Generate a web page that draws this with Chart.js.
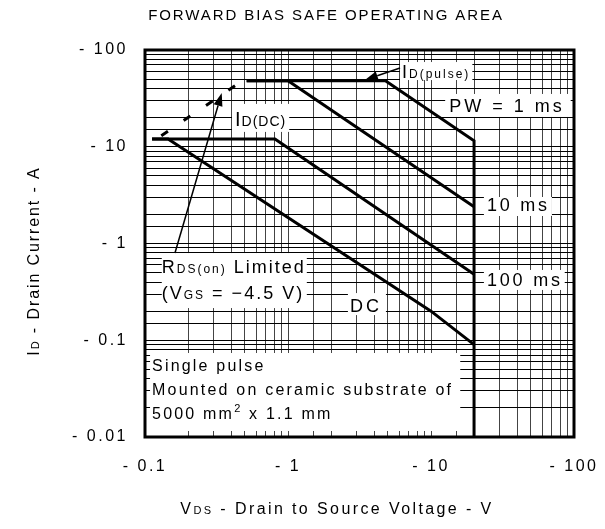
<!DOCTYPE html>
<html><head><meta charset="utf-8">
<script src="https://cdn.jsdelivr.net/npm/chart.js@4.4.0/dist/chart.umd.min.js"></script>
<style>html,body{margin:0;padding:0;background:#fff}canvas{display:block}</style>
</head><body>
<canvas id="c" width="605" height="529"></canvas>
<script>
// ---- data ----
const xTickValues = [0.1, 1, 10, 100];
const xTickLabels = ['- 0.1', '- 1', '- 10', '- 100'];
const yTickValues = [0.01, 0.1, 1, 10, 100];
const yTickLabels = ['- 0.01', '- 0.1', '- 1', '- 10', '- 100'];

const dcV    = [0.112, 0.145, 10, 20];
const dcI    = [12, 12, 0.2, 0.09];
const ms100V = [0.112, 0.81, 20];
const ms100I = [12, 12, 0.48];
const ms10V  = [0.514, 1.0, 20];
const ms10I  = [48, 48, 2.4];
const ms1V   = [0.514, 4.8, 20, 20];
const ms1I   = [48, 48, 11.5, 0.01];
const rdsV   = [0.13, 0.45];
const rdsI   = [13, 45];

const FONT = '"Liberation Sans", Arial, Helvetica, sans-serif';

// labels anchored in data coordinates (left edge, vertical centre of first line)
const labels = [
  {v: 6.27, i: 59.2, sp: 2, lines: [[['I',18],['D(pulse)',12]]], lh: 0, pad: [2,2,10,8]},
  {v: 13.4, i: 26.4, sp: 3, lines: [[['PW = 1 ms',18]]], lh: 0, pad: [4,6,12,11]},
  {v: 0.426, i: 19.4, sp: 1, lines: [[['I',20],['D(DC)',14]]], lh: 0, pad: [3,3,15,13]},
  {v: 24.6, i: 2.5, sp: 2.8, lines: [[['10 ms',18]]], lh: 0, pad: [3,2,8,11]},
  {v: 24.6, i: 0.42, sp: 2.8, lines: [[['100 ms',18]]], lh: 0, pad: [3,2,10,10]},
  {v: 2.71, i: 0.231, sp: 3, lines: [[['DC',18]]], lh: 0, pad: [2,4,12,10]},
  {v: 0.131, i: 0.571, sp: 2, lines: [
      [['R',18],['DS(on)',12],[' Limited',18]],
      [['(V',18],['GS',12],[' = \u22124.5 V)',18]]
    ], lh: 26, pad: [0,1,14,15]},
  {v: 0.112, i: 0.0555, sp: 2.2, lines: [
      [['Single pulse',16]],
      [['Mounted on ceramic substrate of',16]],
      [['5000 mm',16],['2',11,-7],[' x 1.1 mm',16]]
    ], lh: 24, pad: [2,7,12,18]}
];
const arrows = [
  {from: [0.162, 0.798], to: [0.344, 35.9]},
  {from: [6.07, 65.1], to: [3.45, 49]}
];

function pts(xs, ys){ return xs.map((x,k)=>({x:x, y:ys[k]})); }
function tickLabel(v, vals, labs){
  for (let k=0;k<vals.length;k++){ if (Math.abs(Math.log10(v)-Math.log10(vals[k]))<1e-6) return labs[k]; }
  return '';
}
function fnt(size){ return size + 'px ' + FONT; }
function richWidth(ctx, parts, sp){
  let w=0;
  ctx.letterSpacing = sp + 'px';
  for (const p of parts){ ctx.font = fnt(p[1]); w += ctx.measureText(p[0]).width; }
  return w;
}
function drawRich(ctx, parts, x, cy, sp, align){
  ctx.letterSpacing = sp + 'px';
  const main = Math.max(...parts.map(p=>p[1]));
  const w = richWidth(ctx, parts, sp);
  let cx = align==='center' ? x - w/2 : x;
  const base = cy + main*0.716/2;
  ctx.textAlign='left'; ctx.textBaseline='alphabetic'; ctx.fillStyle='#000';
  for (const p of parts){
    ctx.font = fnt(p[1]);
    ctx.fillText(p[0], cx, base + (p[2]||0));
    cx += ctx.measureText(p[0]).width;
  }
  return w;
}

const sopPlugin = {
  id: 'sop',
  beforeUpdate(chart){ chart.ctx.letterSpacing = '2.5px'; },
  beforeDraw(chart){
    const ctx = chart.ctx;
    ctx.save(); ctx.fillStyle='#fff'; ctx.fillRect(0,0,chart.width,chart.height); ctx.restore();
    ctx.letterSpacing = '2.5px';
  },
  beforeDatasetsDraw(chart){
    const ctx = chart.ctx, xs = chart.scales.x, ys = chart.scales.y;
    ctx.save();
    for (const L of labels){
      const x = xs.getPixelForValue(L.v), y = ys.getPixelForValue(L.i);
      let w = 0;
      for (const ln of L.lines) w = Math.max(w, richWidth(ctx, ln, L.sp));
      const yl = y + L.lh*(L.lines.length-1);
      ctx.fillStyle='#fff';
      ctx.fillRect(x-L.pad[0], y-L.pad[2], w+L.pad[0]+L.pad[1], (yl-y)+L.pad[2]+L.pad[3]);
      L.lines.forEach((ln,k)=> drawRich(ctx, ln, x, y + k*L.lh, L.sp, 'left'));
    }
    ctx.restore();
  },
  afterDatasetsDraw(chart){
    const ctx = chart.ctx, a = chart.chartArea, xs = chart.scales.x, ys = chart.scales.y;
    ctx.save();
    ctx.strokeStyle='#000'; ctx.lineWidth=3;
    ctx.strokeRect(a.left, a.top, a.right-a.left, a.bottom-a.top);
    // arrows
    for (const ar of arrows){
      const x0 = xs.getPixelForValue(ar.from[0]), y0 = ys.getPixelForValue(ar.from[1]);
      const x1 = xs.getPixelForValue(ar.to[0]), y1 = ys.getPixelForValue(ar.to[1]);
      const ang = Math.atan2(y1-y0, x1-x0), hl = 13, hw = 4.5;
      const bx = x1 - hl*Math.cos(ang), by = y1 - hl*Math.sin(ang);
      ctx.lineWidth = 1.5; ctx.beginPath(); ctx.moveTo(x0,y0); ctx.lineTo(bx,by); ctx.stroke();
      ctx.beginPath(); ctx.moveTo(x1,y1);
      ctx.lineTo(bx + hw*Math.sin(ang), by - hw*Math.cos(ang));
      ctx.lineTo(bx - hw*Math.sin(ang), by + hw*Math.cos(ang));
      ctx.closePath(); ctx.fillStyle='#000'; ctx.fill();
    }
    ctx.restore();
  },
  afterDraw(chart){
    const ctx = chart.ctx;
    ctx.save();
    drawRich(ctx, [['FORWARD BIAS SAFE OPERATING AREA',15]], 326, 15, 1.9, 'center');
    drawRich(ctx, [['V',16],['DS',11],[' - Drain to Source Voltage - V',16]], 337, 508, 2.4, 'center');
    ctx.translate(33, 261); ctx.rotate(-Math.PI/2);
    drawRich(ctx, [['I',16],['D',11],[' - Drain Current - A',16]], 0, 0, 1.9, 'center');
    ctx.restore();
  }
};

const lineDs = (label, xs, ys, extra) => Object.assign({
  label, data: pts(xs, ys), borderColor:'#000', borderWidth:3, pointRadius:0,
  fill:false, tension:0, showLine:true, borderCapStyle:'butt'
}, extra||{});

new Chart(document.getElementById('c'), {
  type: 'scatter',
  data: { datasets: [
    lineDs('DC', dcV, dcI),
    lineDs('100 ms', ms100V, ms100I),
    lineDs('10 ms', ms10V, ms10I),
    lineDs('1 ms', ms1V, ms1I),
    lineDs('RDS(on)', rdsV, rdsI, {borderDash:[8,19]})
  ]},
  options: {
    responsive:false, animation:false, devicePixelRatio:1,
    layout:{padding:{top:50, right:31, left:0, bottom:0}},
    plugins:{legend:{display:false}, tooltip:{enabled:false}, title:{display:false}},
    scales:{
      x:{type:'logarithmic', min:0.1, max:100,
         grid:{color:'#444', lineWidth:1, drawTicks:false},
         border:{display:false},
         ticks:{autoSkip:false, maxRotation:0, minRotation:0, padding:20, color:'#000',
                font:{family:FONT, size:16},
                callback:(v)=>tickLabel(v, xTickValues, xTickLabels)},
         afterFit:(s)=>{ s.height = 92; s.paddingLeft = 0; s.paddingRight = 0; }},
      y:{type:'logarithmic', min:0.01, max:100,
         grid:{color:'#000', lineWidth:1, drawTicks:false},
         border:{display:false},
         ticks:{autoSkip:false, padding:17, color:'#000',
                font:{family:FONT, size:16},
                callback:(v)=>tickLabel(v, yTickValues, yTickLabels)},
         afterFit:(s)=>{ s.width = 145; s.paddingTop = 0; s.paddingBottom = 0; }}
    }
  },
  plugins:[sopPlugin]
});
</script>
</body></html>
